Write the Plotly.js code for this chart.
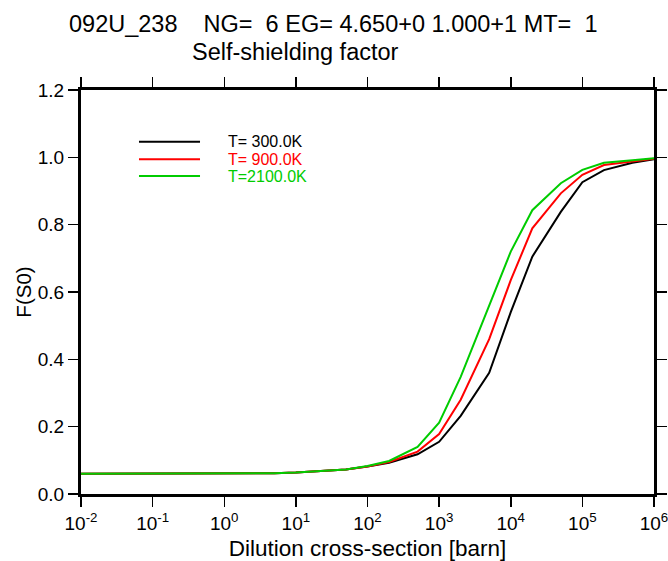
<!DOCTYPE html>
<html>
<head>
<meta charset="utf-8">
<script src="https://cdn.plot.ly/plotly-3.0.1.min.js"></script>
<style>html,body{margin:0;padding:0;background:#fff;}#chart{width:668px;height:561px;}</style>
</head>
<body>
<div id="chart"></div>
<script>
// Dilution cross-section [barn]
const dilution = [1e-2, 1e-1, 1, 2, 5, 10, 20, 50, 100, 200, 500, 1e3, 2e3, 5e3, 1e4, 2e4, 5e4, 1e5, 2e5, 5e5, 1e6];
// Self-shielding factors
const f300  = [0.060, 0.060, 0.0605, 0.061, 0.062, 0.064, 0.067, 0.073, 0.082, 0.093, 0.118, 0.155, 0.232, 0.360, 0.540, 0.705, 0.838, 0.926, 0.962, 0.984, 0.994];
const f900  = [0.060, 0.060, 0.0605, 0.061, 0.062, 0.064, 0.067, 0.073, 0.082, 0.095, 0.126, 0.178, 0.280, 0.460, 0.635, 0.789, 0.893, 0.948, 0.977, 0.989, 0.996];
const f2100 = [0.060, 0.060, 0.0605, 0.061, 0.062, 0.064, 0.067, 0.073, 0.083, 0.098, 0.140, 0.212, 0.348, 0.560, 0.720, 0.843, 0.923, 0.963, 0.984, 0.991, 0.997];
const seriesNames = ["T= 300.0K", "T= 900.0K", "T=2100.0K"];
const seriesColors = ["#000000", "#ff0000", "#00cc00"];
const xTickVals = [1e-2, 1e-1, 1, 10, 1e2, 1e3, 1e4, 1e5, 1e6];
const xTickText = ["10<sup>-2</sup>", "10<sup>-1</sup>", "10<sup>0</sup>", "10<sup>1</sup>", "10<sup>2</sup>", "10<sup>3</sup>", "10<sup>4</sup>", "10<sup>5</sup>", "10<sup>6</sup>"];
const titleLine1 = "092U_238    NG=  6 EG= 4.650+0 1.000+1 MT=  1";
const titleLine2 = "Self-shielding factor";

const FONT = "Liberation Sans, Arial, Helvetica, sans-serif";
const ys = [f300, f900, f2100];
const traces = ys.map((y, i) => ({
  x: dilution, y: y, type: "scatter", mode: "lines",
  name: seriesNames[i], showlegend: false,
  line: {color: seriesColors[i], width: 2}
}));

// legend built from shapes + annotations
const legY = [0.872, 0.8285, 0.787];
const shapes = legY.map((yy, i) => ({
  type: "line", xref: "paper", yref: "paper",
  x0: 0.1012, x1: 0.2077, y0: yy, y1: yy,
  line: {color: seriesColors[i], width: 2}
}));
const annotations = legY.map((yy, i) => ({
  xref: "paper", yref: "paper", x: 0.253, y: yy,
  xanchor: "left", yanchor: "middle", showarrow: false,
  text: seriesNames[i], font: {family: FONT, size: 16, color: seriesColors[i]}
}));
annotations.push({
  xref: "paper", yref: "paper", x: -0.025, y: 1.1646,
  xanchor: "left", yanchor: "middle", showarrow: false,
  text: titleLine1.replace(/ /g, "&nbsp;"), font: {family: FONT, size: 23.5, color: "#000"}
});
annotations.push({
  xref: "paper", yref: "paper", x: (295 - 81) / 573, y: 1.094,
  xanchor: "center", yanchor: "middle", showarrow: false,
  text: titleLine2, font: {family: FONT, size: 23.5, color: "#000"}
});

const axisCommon = {
  showline: true, linewidth: 3, linecolor: "#000", mirror: "ticks",
  ticks: "outside", ticklen: 10, tickwidth: 1.5, tickcolor: "#000",
  showgrid: false, zeroline: false, ticklabeloverflow: "allow",
  tickfont: {family: FONT, size: 19, color: "#000"}
};

const layout = {
  width: 668, height: 561,
  margin: {l: 81, r: 14, t: 90, b: 67},
  paper_bgcolor: "#fff", plot_bgcolor: "#fff",
  font: {family: FONT, color: "#000"},
  xaxis: Object.assign({}, axisCommon, {
    type: "log", range: [-2, 6.00001],
    tickvals: xTickVals, ticktext: xTickText,
    title: {text: "Dilution cross-section [barn]", font: {family: FONT, size: 22.5, color: "#000"}, standoff: 8}
  }),
  yaxis: Object.assign({}, axisCommon, {
    range: [0, 1.2], dtick: 0.2, tick0: 0, tickformat: ".1f",
    title: {text: "F(S0)", font: {family: FONT, size: 20.5, color: "#000"}, standoff: 1}
  }),
  shapes: shapes,
  annotations: annotations
};

Plotly.newPlot("chart", traces, layout, {displayModeBar: false, staticPlot: true});
</script>
</body>
</html>
